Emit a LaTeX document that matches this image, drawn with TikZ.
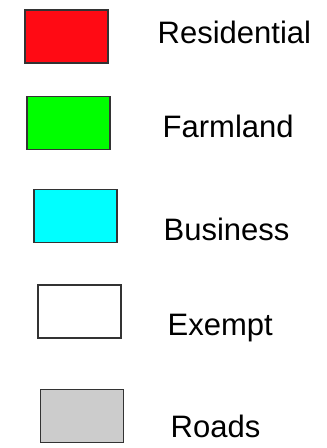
\documentclass[tikz,border=0pt]{standalone}
\usepackage{fontspec}
\setmainfont{Liberation Sans}
\usepackage{tikz}
\usetikzlibrary{positioning}

\definecolor{resred}{HTML}{FF0A14}
\definecolor{farmgreen}{HTML}{00FF00}
\definecolor{buscyan}{HTML}{00FFFF}
\definecolor{roadgray}{HTML}{CCCCCC}
\definecolor{edgegray}{HTML}{333333}

\begin{document}
\begin{tikzpicture}[
    x=1pt, y=-1pt,
    swatch/.style={rectangle, draw=edgegray, line width=1.3pt, minimum width=83pt, minimum height=53pt, inner sep=0pt},
    legtext/.style={anchor=base west, inner sep=0pt, font=\fontsize{31}{36}\selectfont}
  ]
    \useasboundingbox (0,0) rectangle (327,448);
    \node[swatch, fill=resred] (res) at (66.5,36.5) {};
    \node[swatch, fill=farmgreen] (farm) at (68.5,123) {};
    \node[swatch, fill=buscyan] (bus) at (75.5,216) {};
    \node[swatch, fill=white] (exm) at (79.5,311.5) {};
    \node[swatch, fill=roadgray] (road) at (82,416) {};
    \node[legtext] (resl) at (157.5,43) {Residential};
    \node[legtext] (farml) at (162.5,137) {Farmland};
    \node[legtext] (busl) at (163.5,240) {Business};
    \node[legtext] (exml) at (167.5,335) {Exempt};
    \node[legtext] (roadl) at (170.5,437) {Roads};
  \end{tikzpicture}
\end{document}
